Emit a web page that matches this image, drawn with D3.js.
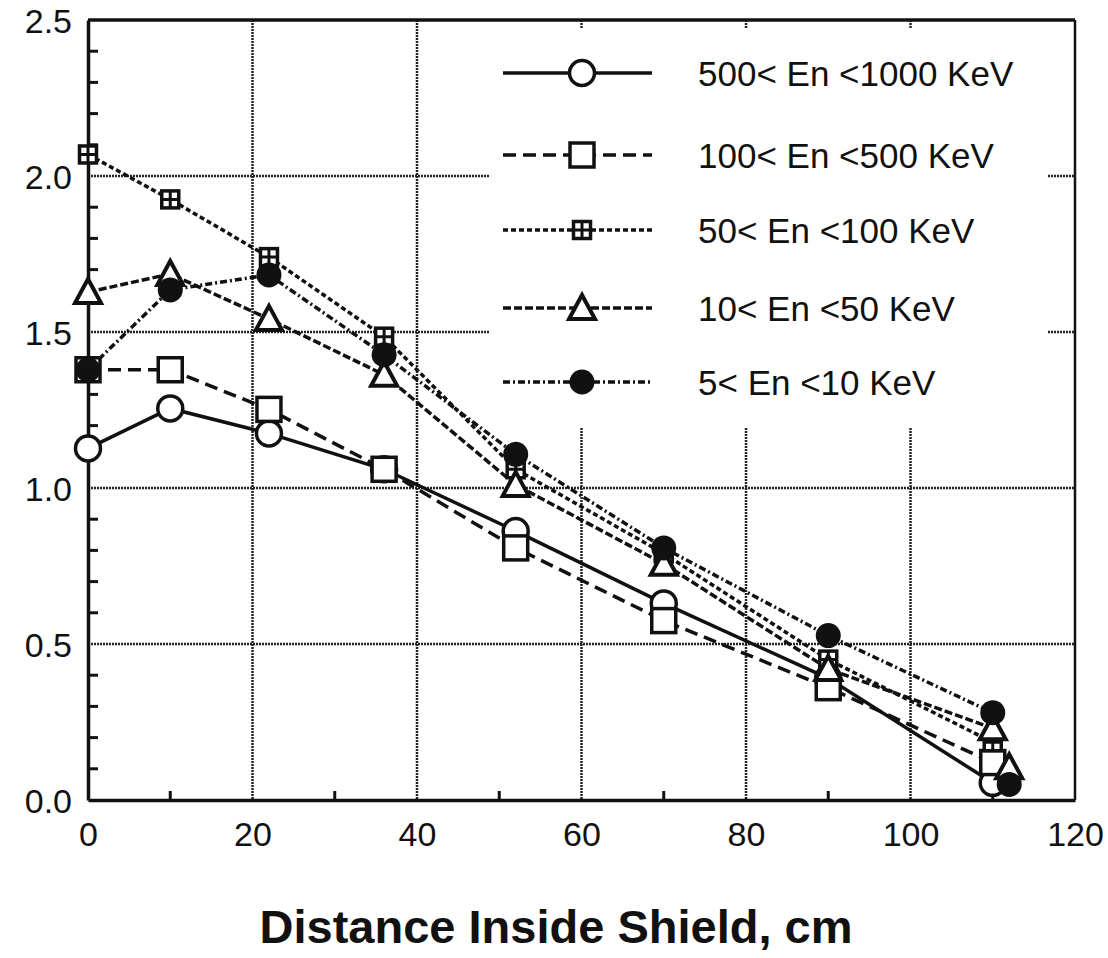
<!DOCTYPE html>
<html>
<head>
<meta charset="utf-8">
<script src="https://cdn.jsdelivr.net/npm/d3@7"></script>
<style>
  body { margin: 0; background: #fff; }
  text { font-family: "Liberation Sans", Arial, sans-serif; fill: #111; }
</style>
</head>
<body>
<div id="chart"></div>
<script>
// data
const distance = [0, 10, 22, 36, 52, 70, 90, 110];
const en500_1000 = [1.127, 1.255, 1.175, 1.06, 0.862, 0.63, 0.39, 0.055];
const en100_500 = [1.379, 1.379, 1.252, 1.06, 0.808, 0.575, 0.36, 0.12];
const en50_100 = [2.069, 1.925, 1.74, 1.485, 1.06, 0.79, 0.45, 0.185];
const en10_50 = [1.628, 1.686, 1.542, 1.363, 1.01, 0.757, 0.42, 0.23];
const en5_10 = [1.379, 1.635, 1.683, 1.427, 1.108, 0.808, 0.527, 0.28];
// extra points at the wall, no line through them
const wallX = [112, 112];
const wallY = [0.105, 0.05];
const wallShape = ["triangle", "filled"];

const labels = ["500< En <1000 KeV", "100< En <500 KeV", "50< En <100 KeV", "10< En <50 KeV", "5< En <10 KeV"];
const shapes = ["circle", "square", "gridsq", "triangle", "filled"];
const dashes = ["none", "13,7", "5,3", "8,3", "7,3,2,3"];
const xTicks = [0, 20, 40, 60, 80, 100, 120];
const yTicks = [0, 0.5, 1.0, 1.5, 2.0, 2.5];

const series = [en500_1000, en100_500, en50_100, en10_50, en5_10];

const W = 1108, H = 958;
const svg = d3.select("#chart").append("svg")
  .attr("width", W).attr("height", H);

const x = d3.scaleLinear().domain([0, 120]).range([88, 1075]);
const y = d3.scaleLinear().domain([0, 2.5]).range([800, 20]);

// grid
const grid = svg.append("g").attr("stroke", "#222").attr("stroke-width", 2.5)
  .attr("stroke-dasharray", "2,1");
grid.selectAll(".vg").data([20, 40, 60, 80, 100]).enter().append("line")
  .attr("x1", d => x(d)).attr("x2", d => x(d))
  .attr("y1", y(2.5)).attr("y2", y(0));
grid.selectAll(".hg").data([0.5, 1.0, 1.5, 2.0]).enter().append("line")
  .attr("x1", x(0)).attr("x2", x(120))
  .attr("y1", d => y(d)).attr("y2", d => y(d));

// legend box hides grid behind it
svg.append("rect").attr("x", 490).attr("y", 28)
  .attr("width", 558).attr("height", 400).attr("fill", "#fff");

// frame
svg.append("line").attr("x1", x(0)).attr("x2", x(120)).attr("y1", y(2.5)).attr("y2", y(2.5))
  .attr("stroke", "#111").attr("stroke-width", 3.5);
svg.append("line").attr("x1", x(120)).attr("x2", x(120)).attr("y1", y(2.5)).attr("y2", y(0))
  .attr("stroke", "#111").attr("stroke-width", 2.5);

// axes
const yAxis = svg.append("g").attr("transform", `translate(${x(0)},0)`)
  .call(d3.axisLeft(y).tickValues(yTicks).tickFormat(d3.format(".1f")).tickSize(0).tickPadding(16));
const xAxis = svg.append("g").attr("transform", `translate(0,${y(0)})`)
  .call(d3.axisBottom(x).tickValues(xTicks).tickFormat(d3.format("d")).tickSize(0).tickPadding(22));
[yAxis, xAxis].forEach(a => {
  a.select(".domain").attr("stroke", "#111").attr("stroke-width", 3.5);
  a.selectAll("text").attr("font-size", 34).attr("fill", "#111")
    .attr("font-family", "'Liberation Sans', Arial, sans-serif");
});
yAxis.selectAll("text").attr("dy", "0.36em");

// minor ticks, inside
const yMinor = d3.range(1, 25).map(i => i / 10).filter(v => Math.abs(v * 2 - Math.round(v * 2)) > 1e-6);
svg.append("g").selectAll("line").data(yMinor).enter().append("line")
  .attr("x1", x(0)).attr("x2", x(0) + 10)
  .attr("y1", d => y(d)).attr("y2", d => y(d))
  .attr("stroke", "#111").attr("stroke-width", 3);
svg.append("g").selectAll("line").data([10, 30, 50, 70, 90, 110]).enter().append("line")
  .attr("x1", d => x(d)).attr("x2", d => x(d))
  .attr("y1", y(0)).attr("y2", y(0) - 9)
  .attr("stroke", "#111").attr("stroke-width", 3);

// axis title
svg.append("text").attr("x", 556).attr("y", 943).attr("text-anchor", "middle")
  .attr("font-size", 47).attr("font-weight", "bold").text("Distance Inside Shield, cm");

// markers
function drawMarker(g, shape) {
  if (shape === "circle") {
    g.append("circle").attr("r", 12.5).attr("fill", "#fff").attr("stroke", "#111").attr("stroke-width", 3.5);
  } else if (shape === "filled") {
    g.append("circle").attr("r", 12.5).attr("fill", "#111");
  } else if (shape === "square") {
    g.append("rect").attr("x", -12).attr("y", -12).attr("width", 24).attr("height", 24)
      .attr("fill", "#fff").attr("stroke", "#111").attr("stroke-width", 3.5);
  } else if (shape === "gridsq") {
    g.append("rect").attr("x", -8.5).attr("y", -8.5).attr("width", 17).attr("height", 17)
      .attr("fill", "#fff").attr("stroke", "#111").attr("stroke-width", 3.5);
    g.append("path").attr("d", "M-8.5,0H8.5M0,-8.5V8.5").attr("stroke", "#111").attr("stroke-width", 3);
  } else if (shape === "triangle") {
    g.append("path").attr("d", "M0,-13L13,11L-13,11Z")
      .attr("fill", "#fff").attr("stroke", "#111").attr("stroke-width", 4).attr("stroke-linejoin", "miter");
  }
}

const line = d3.line().x(d => x(d[0])).y(d => y(d[1]));

series.forEach((vals, i) => {
  const pts = distance.map((d, j) => [d, vals[j]]);
  svg.append("path").datum(pts).attr("d", line)
    .attr("fill", "none").attr("stroke", "#111").attr("stroke-width", 3.5)
    .attr("stroke-dasharray", dashes[i] === "none" ? null : dashes[i]);
});
series.forEach((vals, i) => {
  distance.forEach((d, j) => {
    const g = svg.append("g").attr("transform", `translate(${x(d)},${y(vals[j])})`);
    drawMarker(g, shapes[i]);
  });
});
wallX.forEach((d, j) => {
  const g = svg.append("g").attr("transform", `translate(${x(d)},${y(wallY[j])})`);
  drawMarker(g, wallShape[j]);
});

// legend
const legY = [73, 155, 230, 308, 382];
labels.forEach((lab, i) => {
  const g = svg.append("g").attr("transform", `translate(0,${legY[i]})`);
  g.append("line").attr("x1", 503).attr("x2", 652).attr("y1", 0).attr("y2", 0)
    .attr("stroke", "#111").attr("stroke-width", 3.5)
    .attr("stroke-dasharray", dashes[i] === "none" ? null : dashes[i]);
  const m = g.append("g").attr("transform", "translate(582,0)");
  drawMarker(m, shapes[i]);
  g.append("text").attr("x", 698).attr("y", 0).attr("dy", "0.36em")
    .attr("font-size", 35).text(lab);
});
</script>
</body>
</html>
